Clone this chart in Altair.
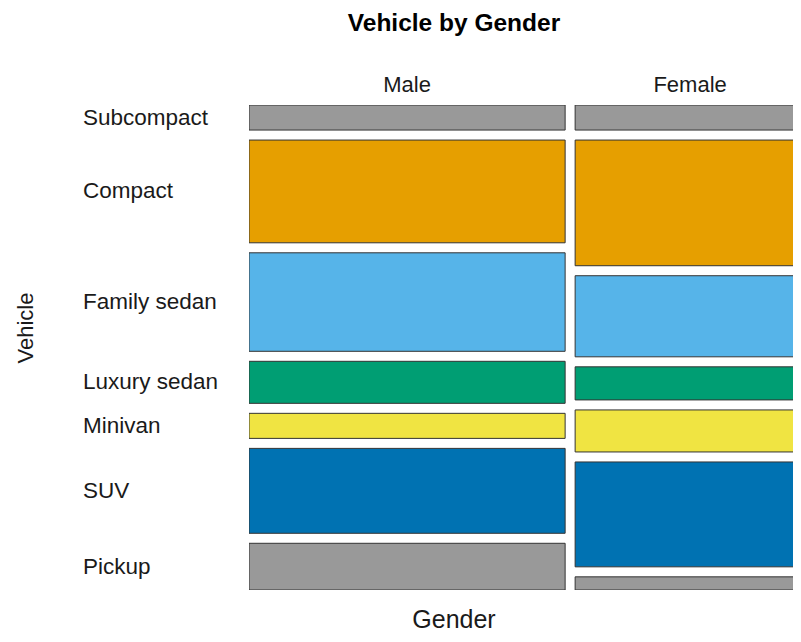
import altair as alt
import pandas as pd

# ---- data ----
vehicles = ["Subcompact", "Compact", "Family sedan", "Luxury sedan", "Minivan", "SUV", "Pickup"]
genders = ["Male", "Female"]
gender_share = [57.9, 42.1]  # percent of respondents
male_pct = [5.9, 24.2, 23.2, 9.9, 5.9, 20.0, 11.0]
female_pct = [5.9, 29.6, 19.1, 7.8, 9.9, 24.7, 3.1]
colors = ["#999999", "#E69F00", "#56B4E9", "#009E73", "#F0E442", "#0072B2", "#999999"]

# ---- layout constants ----
GX = 10 / 546  # horizontal gap between columns (data units)
GY = 10 / 425  # vertical gap between tiles (data units)
PLOT_W, PLOT_H = 544, 485
FONT = "Liberation Sans"

rows = []
gtot = sum(gender_share)
x0 = 0.0
for gi, (g, share, pcts) in enumerate(zip(genders, gender_share, [male_pct, female_pct])):
    w = share / gtot
    tot = sum(pcts)
    y0 = 0.0
    for vi, (v, p) in enumerate(zip(vehicles, pcts)):
        h = p / tot
        rows.append(dict(gender=g, vehicle=v, x=x0, x2=x0 + w, xm=x0 + w / 2,
                         y=y0, y2=y0 + h, ym=y0 + h / 2, color=colors[vi]))
        y0 += h + GY
    x0 += w + GX
df = pd.DataFrame(rows)

xscale = alt.Scale(domain=[0, PLOT_W / 546], nice=False, zero=False)
yscale = alt.Scale(domain=[0, 1 + 6 * GY], reverse=True, nice=False, zero=False)

base = alt.Chart(df)

tiles = base.mark_rect(stroke="#333333", strokeWidth=1, clip=True).encode(
    x=alt.X("x:Q", scale=xscale, axis=None),
    x2="x2:Q",
    y=alt.Y("y:Q", scale=yscale, axis=None),
    y2="y2:Q",
    color=alt.Color("color:N", scale=None, legend=None),
)

row_labels = base.transform_filter(alt.datum.gender == "Male").mark_text(
    align="left", baseline="middle", font=FONT, fontSize=22.5, color="#1a1a1a"
).encode(
    x=alt.value(-166),
    y=alt.Y("ym:Q", scale=yscale, axis=None),
    text="vehicle:N",
)

col_labels = base.transform_filter(alt.datum.vehicle == "Subcompact").mark_text(
    align="center", baseline="middle", font=FONT, fontSize=22, color="#1a1a1a"
).encode(
    x=alt.X("xm:Q", scale=xscale, axis=None),
    y=alt.value(-20),
    text="gender:N",
)

title_df = pd.DataFrame({"t": ["Vehicle by Gender"]})
title = alt.Chart(title_df).mark_text(
    align="center", baseline="middle", font=FONT, fontSize=24.5, fontWeight="bold", color="black"
).encode(x=alt.value(205), y=alt.value(-81), text="t:N")

xtitle = alt.Chart(pd.DataFrame({"t": ["Gender"]})).mark_text(
    align="center", baseline="alphabetic", font=FONT, fontSize=25, color="#1a1a1a"
).encode(x=alt.value(205), y=alt.value(523), text="t:N")

ytitle = alt.Chart(pd.DataFrame({"t": ["Vehicle"]})).mark_text(
    align="center", baseline="middle", font=FONT, fontSize=22, angle=270, color="#1a1a1a"
).encode(x=alt.value(-223), y=alt.value(223), text="t:N")

chart = alt.layer(tiles, row_labels, col_labels, title, xtitle, ytitle).properties(
    width=PLOT_W,
    height=PLOT_H,
    autosize=alt.AutoSizeParams(type="none"),
    padding={"left": 241, "top": 97, "right": 0, "bottom": 44},
).configure_view(stroke=None)

chart.save("out.html", embed_options={"renderer": "svg", "actions": False})
